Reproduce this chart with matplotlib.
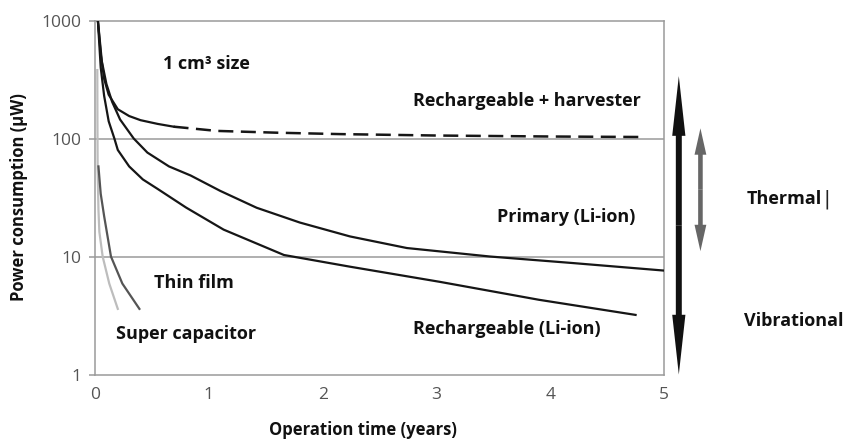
import numpy as np
import matplotlib
matplotlib.use('Agg')
import matplotlib.pyplot as plt
from matplotlib.patches import FancyArrowPatch

# curves (time in years, power in uW)
harv_t = [0.025, 0.05, 0.08, 0.12, 0.2, 0.3, 0.4, 0.55, 0.69, 1.07, 1.6, 2.15, 3.0, 4.0, 4.8]
harv_v = [1000, 520, 320, 235, 177, 155, 143, 133, 126, 116, 112, 109, 106, 104, 103]
harv_split = 8  # solid up to here, dashed after

prim_t = [0.025, 0.06, 0.1, 0.15, 0.22, 0.34, 0.46, 0.65, 0.84, 1.1, 1.42, 1.8, 2.24, 2.74, 3.47, 4.2, 5.0]
prim_v = [1000, 450, 290, 205, 145, 100, 76, 58, 48.6, 36, 25.9, 19.4, 14.8, 11.8, 10, 8.8, 7.6]

rech_t = [0.025, 0.05, 0.08, 0.12, 0.17, 0.2, 0.3, 0.42, 0.55, 0.8, 1.13, 1.66, 2.24, 3.03, 3.9, 4.75]
rech_v = [1000, 400, 230, 140, 100, 80, 58, 45, 37.4, 26, 16.9, 10.3, 8.2, 6.1, 4.3, 3.2]

thin_t = [0.03, 0.05, 0.08, 0.14, 0.24, 0.39]
thin_v = [58, 34, 22, 10, 5.9, 3.6]

scap_t = [0.02, 0.021, 0.023, 0.03, 0.038, 0.067, 0.125, 0.2]
scap_v = [380, 150, 55, 25, 16.2, 10, 5.9, 3.6]

# harvesting ranges (uW)
vib_range = [1.0, 338]
therm_range = [11.1, 122]

xticks = [0, 1, 2, 3, 4, 5]
yticks = [1, 10, 100, 1000]

bold = dict(family=['Open Sans', 'DejaVu Sans'], weight='bold', color='#111111')

fig = plt.figure(figsize=(8.5, 4.45), dpi=100)
ax = fig.add_axes([0.1118, 0.1584, 0.6694, 0.7955])
ax.set_yscale('log')
ax.set_xlim(0, 5)
ax.set_ylim(1, 1000)

for y in [10, 100]:
    ax.axhline(y, color='#9a9a9a', lw=1.1, zorder=1)

ax.plot(scap_t, scap_v, color='#bdbdbd', lw=1.6, zorder=2)
ax.plot(thin_t, thin_v, color='#555555', lw=1.6, zorder=3)
ax.plot(rech_t, rech_v, color='#161616', lw=1.6, zorder=4)
ax.plot(prim_t, prim_v, color='#161616', lw=1.6, zorder=4)
ax.plot(harv_t[:harv_split + 1], harv_v[:harv_split + 1], color='#161616', lw=1.6, zorder=4)
ax.plot(harv_t[harv_split:], harv_v[harv_split:], color='#161616', lw=1.8,
        dashes=(6, 3), zorder=4)

for s in ax.spines.values():
    s.set_color('#9a9a9a')
    s.set_linewidth(1.1)

ax.set_xticks(xticks)
ax.set_xticklabels([str(v) for v in xticks])
ax.set_yticks(yticks)
ax.set_yticklabels([str(v) for v in yticks])
ax.minorticks_off()
ax.tick_params(axis='x', length=0, pad=9, labelsize=12.5, labelcolor='#555555')
ax.tick_params(axis='y', length=4.5, width=1.1, color='#9a9a9a', pad=5,
               labelsize=12.5, labelcolor='#555555')
for lab in ax.get_xticklabels() + ax.get_yticklabels():
    lab.set_family(['Open Sans', 'DejaVu Sans'])

ax.set_ylabel('Power consumption (µW)', fontsize=12, **bold)
ax.set_xlabel('Operation time (years)', fontsize=12, **bold)
ax.yaxis.set_label_coords(-0.118, 0.5)
ax.xaxis.set_label_coords(0.47, -0.13)

ax.text(0.6, 426, '1 cm³ size', fontsize=13, va='center', **bold)
ax.text(2.79, 206, 'Rechargeable + harvester', fontsize=13, va='center', **bold)
ax.text(3.53, 21.7, 'Primary (Li-ion)', fontsize=13, va='center', **bold)
ax.text(0.52, 5.95, 'Thin film', fontsize=13, va='center', **bold)
ax.text(0.18, 2.19, 'Super capacitor', fontsize=13, va='center', **bold)
ax.text(2.79, 2.42, 'Rechargeable (Li-ion)', fontsize=13, va='center', **bold)
therm = ax.text(5.73, 30.8, 'Thermal', fontsize=13, va='center', clip_on=False, **bold)
ax.annotate('|', xy=(1, 0.5), xycoords=therm, xytext=(1, 0), textcoords='offset points',
            fontsize=14, ha='left', va='center', family=['DejaVu Sans'], color='#222222')
ax.text(5.70, 2.83, 'Vibrational', fontsize=13, va='center', clip_on=False, **bold)


def double_arrow(x, lo, hi, color, hl, hw, tw):
    mid = np.sqrt(lo * hi)
    for end in (lo, hi):
        a = FancyArrowPatch((x, mid), (x, end), transform=ax.transData,
                            arrowstyle='Simple,head_length=%s,head_width=%s,tail_width=%s' % (hl, hw, tw),
                            mutation_scale=1, color=color, lw=0, shrinkA=0, shrinkB=0)
        a.set_clip_on(False)
        ax.add_patch(a)


double_arrow(5.13, vib_range[0], vib_range[1], '#111111', 43, 9.5, 4.3)
double_arrow(5.32, therm_range[0], therm_range[1], '#666666', 19, 8.5, 3.3)

fig.savefig('out.png', dpi=100)
